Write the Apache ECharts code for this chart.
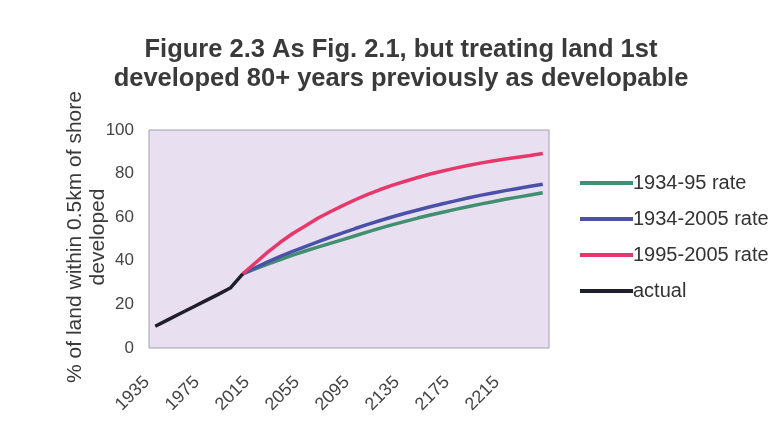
<!DOCTYPE html>
<html>
<head>
<meta charset="utf-8">
<script src="https://cdn.jsdelivr.net/npm/echarts@6/dist/echarts.min.js"></script>
<style>
  html, body { margin: 0; padding: 0; background: #ffffff; }
  #chart { width: 779px; height: 436px; }
</style>
</head>
<body>
<div id="chart"></div>
<script>
// Years on the category axis (10-year steps)
var years = ['1935','1945','1955','1965','1975','1985','1995','2005','2015','2025',
             '2035','2045','2055','2065','2075','2085','2095','2105','2115','2125',
             '2135','2145','2155','2165','2175','2185','2195','2205','2215','2225',
             '2235','2245'];

// Observed share of shoreline land developed (%)
var actual = [10, 12.9, 15.8, 18.7, 21.6, 24.5, 27.5, 34];

// Projections from 2005 onward (%)
var rate1934_95 = [34, 36.3, 38.5, 40.6, 42.6, 44.5, 46.3, 48, 49.7, 51.5, 53.3, 55,
                   56.6, 58.1, 59.6, 61, 62.3, 63.6, 64.8, 66, 67.1, 68.2, 69.2, 70.2, 71.2];
var rate1934_2005 = [34, 36.8, 39.5, 42, 44.3, 46.5, 48.7, 50.8, 52.8, 54.8, 56.7, 58.5,
                     60.2, 61.8, 63.3, 64.8, 66.2, 67.5, 68.8, 70, 71.1, 72.2, 73.2, 74.2, 75.1];
var rate1995_2005 = [34, 39, 44, 48.5, 52.5, 56, 59.5, 62.5, 65.3, 68, 70.5, 72.7,
                     74.7, 76.5, 78.2, 79.8, 81.2, 82.5, 83.7, 84.8, 85.8, 86.7, 87.5, 88.3, 89.2];

var yTicks = [0, 20, 40, 60, 80, 100];

var seriesNames = ['1934-95 rate', '1934-2005 rate', '1995-2005 rate', 'actual'];
var seriesColors = ['#3f8f70', '#4b50a8', '#e6386a', '#1f1f2b'];

// Pad a projection so it begins at its starting year on the axis
function fromYear(startYear, values) {
  var out = [];
  var start = years.indexOf(startYear);
  for (var i = 0; i < years.length; i++) {
    out.push(i >= start && i - start < values.length ? values[i - start] : null);
  }
  return out;
}

var seriesData = [
  fromYear('2005', rate1934_95),
  fromYear('2005', rate1934_2005),
  fromYear('2005', rate1995_2005),
  fromYear('1935', actual)
];

var font = '"Liberation Sans", Arial, sans-serif';
var chart = echarts.init(document.getElementById('chart'));

chart.setOption({
  backgroundColor: '#ffffff',
  animation: false,
  textStyle: { fontFamily: font },
  title: {
    text: 'Figure 2.3 As Fig. 2.1, but treating land 1st\ndeveloped 80+ years previously as developable',
    left: 396,
    top: 30,
    textAlign: 'center',
    textStyle: { fontFamily: font, fontSize: 25.5, fontWeight: 'bold', color: '#3a3a3a', lineHeight: 29 }
  },
  graphic: [
    {
      type: 'text',
      x: 75, y: 237,
      rotation: Math.PI / 2,
      style: {
        text: '% of land within 0.5km of shore',
        font: '21px ' + font,
        fill: '#3a3a3a',
        textAlign: 'center',
        textVerticalAlign: 'middle'
      }
    },
    {
      type: 'text',
      x: 98, y: 237,
      rotation: Math.PI / 2,
      style: {
        text: 'developed',
        font: '21px ' + font,
        fill: '#3a3a3a',
        textAlign: 'center',
        textVerticalAlign: 'middle'
      }
    }
  ],
  legend: {
    orient: 'vertical',
    left: 575,
    top: 168,
    icon: 'rect',
    itemWidth: 53,
    itemHeight: 4,
    itemGap: 16,
    data: seriesNames,
    textStyle: { fontFamily: font, fontSize: 20, color: '#333333', lineHeight: 20, padding: [0, 0, 0, -5] }
  },
  grid: {
    left: 149, right: 230, top: 130, bottom: 88,
    show: true,
    backgroundColor: '#e8e0f0',
    borderColor: '#a4a0ac',
    borderWidth: 1
  },
  xAxis: {
    type: 'category',
    data: years,
    boundaryGap: true,
    axisLine: { show: false },
    axisTick: { show: false },
    axisLabel: {
      interval: 3,
      rotate: 45,
      margin: 23,
      padding: [0, 12, 0, 0],
      fontSize: 18,
      color: '#444444',
      fontFamily: font
    }
  },
  yAxis: {
    type: 'value',
    min: yTicks[0],
    max: yTicks[yTicks.length - 1],
    interval: yTicks[1] - yTicks[0],
    splitLine: { show: false },
    axisLine: { show: false },
    axisTick: { show: false },
    axisLabel: { fontSize: 17, color: '#444444', margin: 15, fontFamily: font }
  },
  series: seriesNames.map(function (name, i) {
    return {
      name: name,
      type: 'line',
      data: seriesData[i],
      symbol: 'none',
      connectNulls: false,
      lineStyle: { width: 3.5, color: seriesColors[i] },
      itemStyle: { color: seriesColors[i] },
      z: i + 2
    };
  })
});
</script>
</body>
</html>
